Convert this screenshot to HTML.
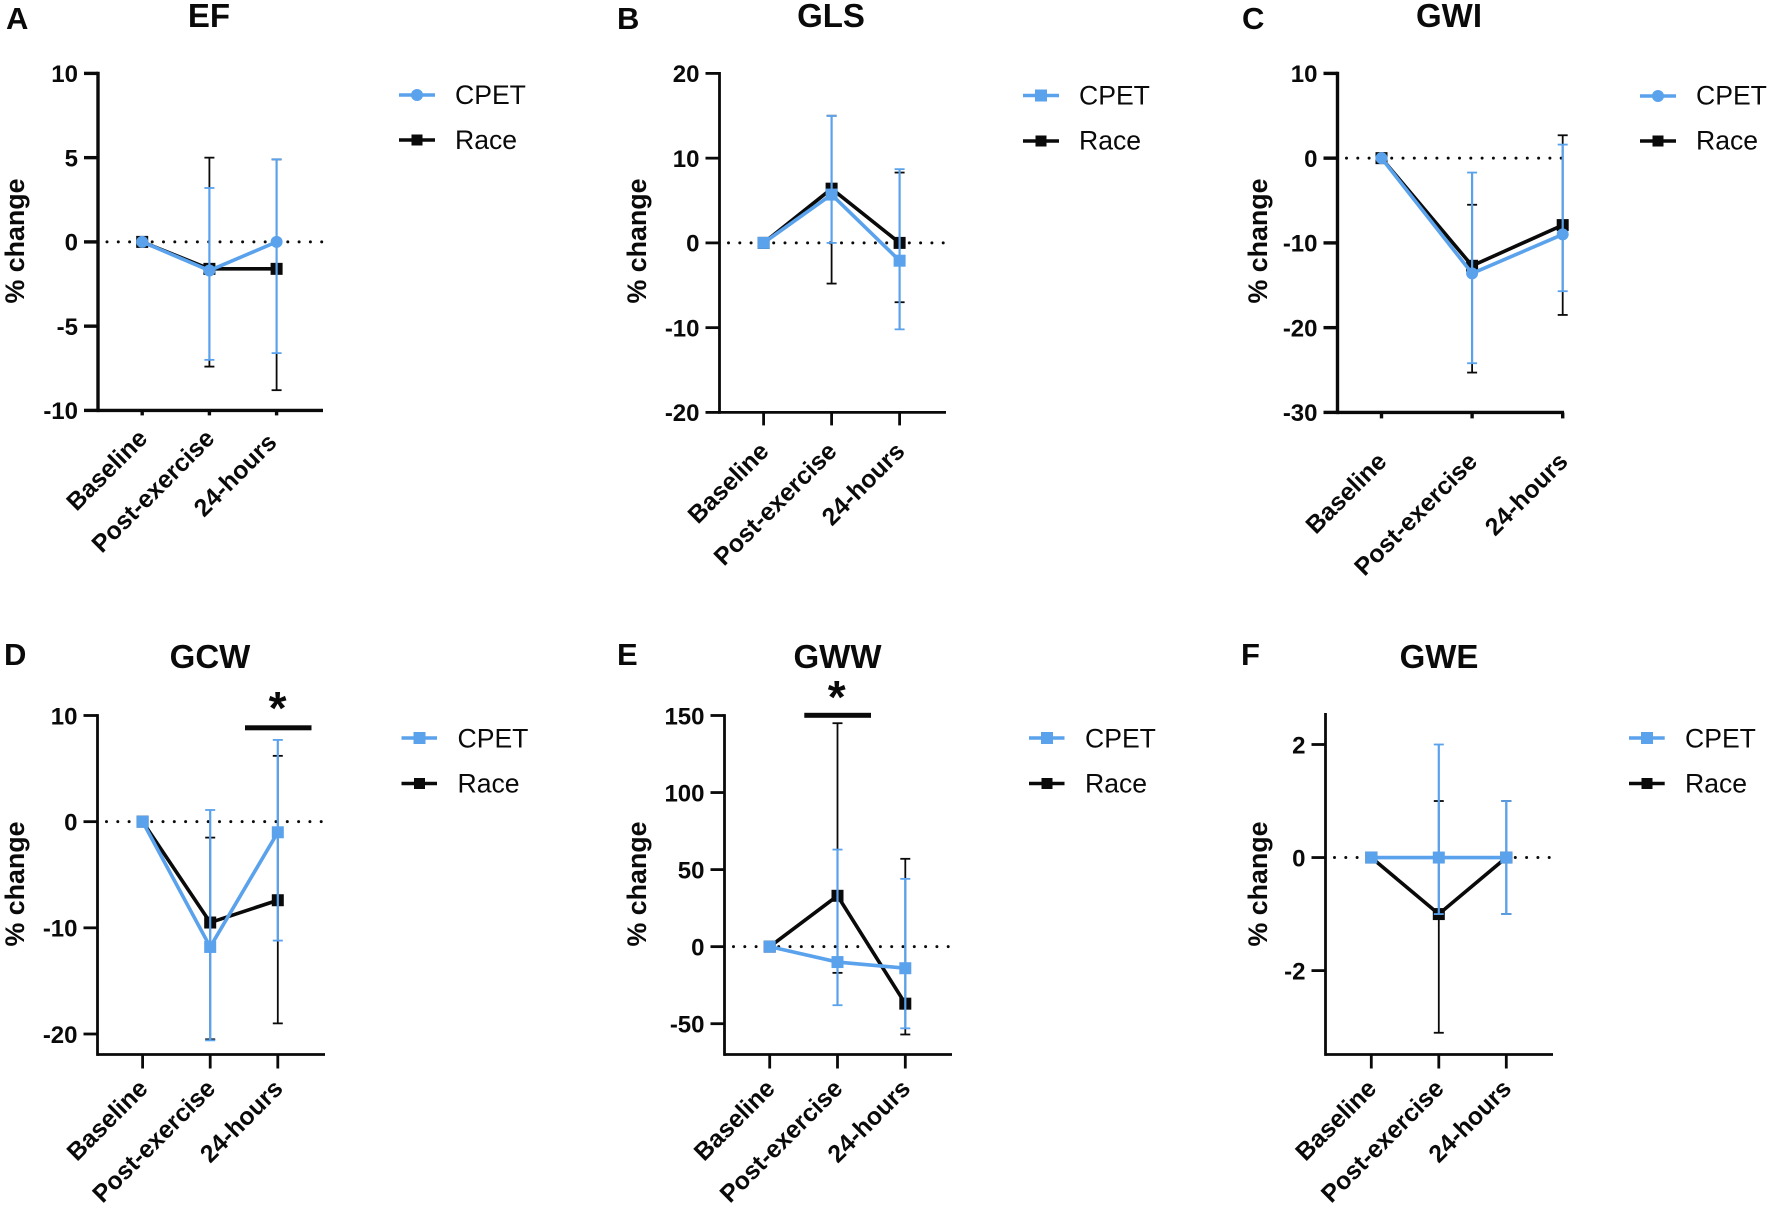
<!DOCTYPE html>
<html lang="en">
<head>
<meta charset="utf-8">
<title>Percent change by time point: EF, GLS, GWI, GCW, GWW, GWE</title>
<style>
html,body{margin:0;padding:0;background:#fff;width:1772px;height:1213px;overflow:hidden}
svg{display:block}
text{font-family:"Liberation Sans",sans-serif;fill:#0a0a0a}
.letter{font-size:31px;font-weight:700}
.title{font-size:33px;font-weight:700;text-anchor:middle}
.ytitle{font-size:26.8px;font-weight:700;text-anchor:middle}
.tick{font-size:24px;font-weight:700;text-anchor:end}
.cat{font-size:24.8px;font-weight:700;text-anchor:end}
.leg{font-size:26.6px}
.star{font-size:46px;font-weight:700;text-anchor:middle}
</style>
</head>
<body>
<svg id="figure" xmlns="http://www.w3.org/2000/svg" width="1772" height="1213" viewBox="0 0 1772 1213">
  <rect width="1772" height="1213" fill="#fff"/>

  <g id="panel-ef">
    <text class="letter" x="6" y="29">A</text>
    <text class="title" x="209" y="27">EF</text>
    <text class="ytitle" transform="translate(24,241) rotate(-90)">% change</text>
    <g>
      <line x1="399" x2="435" y1="95" y2="95" stroke="#5aa2ec" stroke-width="3.4"/>
      <circle cx="417" cy="95" r="6" fill="#5aa2ec"/>
      <text class="leg" x="455" y="104">CPET</text>
      <line x1="399" x2="435" y1="140" y2="140" stroke="#0a0a0a" stroke-width="3.4"/>
      <rect x="411.5" y="134.5" width="11" height="11" fill="#0a0a0a"/>
      <text class="leg" x="455" y="149">Race</text>
    </g>
  </g>

  <g id="panel-gls">
    <text class="letter" x="617" y="29">B</text>
    <text class="title" x="831" y="27">GLS</text>
    <text class="ytitle" transform="translate(646,241) rotate(-90)">% change</text>
    <g>
      <line x1="1023" x2="1059" y1="95.5" y2="95.5" stroke="#5aa2ec" stroke-width="3.4"/>
      <rect x="1035" y="89.5" width="12" height="12" fill="#5aa2ec"/>
      <text class="leg" x="1079" y="104.5">CPET</text>
      <line x1="1023" x2="1059" y1="141" y2="141" stroke="#0a0a0a" stroke-width="3.4"/>
      <rect x="1035.5" y="135.5" width="11" height="11" fill="#0a0a0a"/>
      <text class="leg" x="1079" y="149.5">Race</text>
    </g>
  </g>

  <g id="panel-gwi">
    <text class="letter" x="1242" y="29">C</text>
    <text class="title" x="1449" y="27">GWI</text>
    <text class="ytitle" transform="translate(1267,241) rotate(-90)">% change</text>
    <g>
      <line x1="1640" x2="1676" y1="96" y2="96" stroke="#5aa2ec" stroke-width="3.4"/>
      <circle cx="1658" cy="96" r="6" fill="#5aa2ec"/>
      <text class="leg" x="1696" y="104.5">CPET</text>
      <line x1="1640" x2="1676" y1="141" y2="141" stroke="#0a0a0a" stroke-width="3.4"/>
      <rect x="1652.5" y="135.5" width="11" height="11" fill="#0a0a0a"/>
      <text class="leg" x="1696" y="149.5">Race</text>
    </g>
  </g>

  <g id="panel-gcw">
    <text class="letter" x="4" y="665">D</text>
    <text class="title" x="210" y="668">GCW</text>
    <text class="ytitle" transform="translate(24,884) rotate(-90)">% change</text>
    <text class="star" x="277.6" y="724">*</text>
    <rect x="245" y="725.3" width="66.5" height="5" fill="#0a0a0a"/>
    <g>
      <line x1="401.5" x2="437" y1="738" y2="738" stroke="#5aa2ec" stroke-width="3.4"/>
      <rect x="413.5" y="732" width="12" height="12" fill="#5aa2ec"/>
      <text class="leg" x="457.5" y="747.5">CPET</text>
      <line x1="401.5" x2="437" y1="783.5" y2="783.5" stroke="#0a0a0a" stroke-width="3.4"/>
      <rect x="414" y="778" width="11" height="11" fill="#0a0a0a"/>
      <text class="leg" x="457.5" y="792.5">Race</text>
    </g>
  </g>

  <g id="panel-gww">
    <text class="letter" x="617" y="665">E</text>
    <text class="title" x="837.5" y="668">GWW</text>
    <text class="ytitle" transform="translate(646,884) rotate(-90)">% change</text>
    <text class="star" x="836.7" y="713">*</text>
    <rect x="804.3" y="712.8" width="66.7" height="5" fill="#0a0a0a"/>
    <g>
      <line x1="1029" x2="1064.5" y1="738" y2="738" stroke="#5aa2ec" stroke-width="3.4"/>
      <rect x="1041" y="732" width="12" height="12" fill="#5aa2ec"/>
      <text class="leg" x="1085" y="747.5">CPET</text>
      <line x1="1029" x2="1064.5" y1="783.5" y2="783.5" stroke="#0a0a0a" stroke-width="3.4"/>
      <rect x="1041.5" y="778" width="11" height="11" fill="#0a0a0a"/>
      <text class="leg" x="1085" y="792.5">Race</text>
    </g>
  </g>

  <g id="panel-gwe">
    <text class="letter" x="1241" y="665">F</text>
    <text class="title" x="1439" y="668">GWE</text>
    <text class="ytitle" transform="translate(1267,884) rotate(-90)">% change</text>
    <g>
      <line x1="1629" x2="1664.7" y1="738" y2="738" stroke="#5aa2ec" stroke-width="3.4"/>
      <rect x="1641" y="732" width="12" height="12" fill="#5aa2ec"/>
      <text class="leg" x="1685" y="747.5">CPET</text>
      <line x1="1629" x2="1664.7" y1="783.5" y2="783.5" stroke="#0a0a0a" stroke-width="3.4"/>
      <rect x="1641.5" y="778" width="11" height="11" fill="#0a0a0a"/>
      <text class="leg" x="1685" y="792.5">Race</text>
    </g>
  </g>
</svg>

<script>
// ---- Shared categories ----
const categories = ['Baseline', 'Post-exercise', '24-hours'];

// ---- EF ----
const efTicks = [10, 5, 0, -5, -10];
const efCpetMean = [0, -1.7, 0];
const efCpetUpper = [0, 3.2, 4.9];
const efCpetLower = [0, -7, -6.6];
const efRaceMean = [0, -1.6, -1.6];
const efRaceUpper = [0, 5, 4.9];
const efRaceLower = [0, -7.4, -8.8];

// ---- GLS ----
const glsTicks = [20, 10, 0, -10, -20];
const glsCpetMean = [0, 5.7, -2.1];
const glsCpetUpper = [0, 15, 8.7];
const glsCpetLower = [0, 0, -10.2];
const glsRaceMean = [0, 6.4, 0];
const glsRaceUpper = [0, 15, 8.3];
const glsRaceLower = [0, -4.8, -7];

// ---- GWI ----
const gwiTicks = [10, 0, -10, -20, -30];
const gwiCpetMean = [0, -13.6, -9];
const gwiCpetUpper = [0, -1.7, 1.6];
const gwiCpetLower = [0, -24.2, -15.7];
const gwiRaceMean = [0, -12.7, -7.9];
const gwiRaceUpper = [0, -5.5, 2.7];
const gwiRaceLower = [0, -25.3, -18.5];

// ---- GCW ----
const gcwTicks = [10, 0, -10, -20];
const gcwCpetMean = [0, -11.8, -1];
const gcwCpetUpper = [0, 1.1, 7.7];
const gcwCpetLower = [0, -20.6, -11.2];
const gcwRaceMean = [0, -9.5, -7.4];
const gcwRaceUpper = [0, -1.5, 6.2];
const gcwRaceLower = [0, -20.5, -19];

// ---- GWW ----
const gwwTicks = [150, 100, 50, 0, -50];
const gwwCpetMean = [0, -10, -14];
const gwwCpetUpper = [0, 63, 44];
const gwwCpetLower = [0, -38, -53];
const gwwRaceMean = [0, 33, -37];
const gwwRaceUpper = [0, 145, 57];
const gwwRaceLower = [0, -17, -57];

// ---- GWE ----
const gweTicks = [2, 0, -2];
const gweCpetMean = [0, 0, 0];
const gweCpetUpper = [0, 2, 1];
const gweCpetLower = [0, -1, -1];
const gweRaceMean = [0, -1, 0];
const gweRaceUpper = [0, 1, 1];
const gweRaceLower = [0, -3.1, -1];

const BLUE = '#5aa2ec';
const BLACK = '#0a0a0a';
const NS = 'http://www.w3.org/2000/svg';

function mk(tag, parent, attrs) {
  const el = document.createElementNS(NS, tag);
  for (const k in attrs) el.setAttribute(k, attrs[k]);
  parent.appendChild(el);
  return el;
}

function drawPanel(p) {
  const root = document.getElementById(p.id);
  const yScale = v => p.pxLo + (v - p.lo) * (p.pxHi - p.pxLo) / (p.hi - p.lo);
  const xScale = i => p.x0 + i * p.dx;

  const axes = mk('g', root, {});
  
  

  const yAxis = mk('line', axes, {x1: p.axisX, x2: p.axisX, y1: p.axisTop - p.aw / 2, y2: p.axisBottom + p.aw / 2, stroke: BLACK, 'stroke-width': p.aw});
  
  

  const xAxis = mk('line', axes, {x1: p.axisX, x2: p.xEnd, y1: p.axisBottom, y2: p.axisBottom, stroke: BLACK, 'stroke-width': p.aw});
  
  

  p.ticks.forEach(t => {
    const py = yScale(t);
    const tm = mk('line', axes, {x1: p.axisX - 14, x2: p.axisX, y1: py, y2: py, stroke: BLACK, 'stroke-width': p.aw});
    
    
    const lb = mk('text', axes, {class: 'tick', x: p.axisX - 20, y: py + 8.8});
    lb.textContent = String(t);
    
    
  });

  categories.forEach((c, i) => {
    const px = xScale(i);
    const tm = mk('line', axes, {x1: px, x2: px, y1: p.axisBottom, y2: p.axisBottom + p.tickLen, stroke: BLACK, 'stroke-width': p.aw});
    
    
    const isLast = i === categories.length - 1;
    const lx = px + 6.5 + (isLast ? (p.lastLabelDx || 0) : 0);
    const ly = p.axisBottom + p.tickLen + p.labelGap + (isLast ? (p.lastLabelDy || 0) : 0);
    const lb = mk('text', axes, {class: 'cat', transform: `translate(${lx},${ly}) rotate(-45)`});
    lb.textContent = c;
    
    
  });

  const zero = mk('line', root, {x1: p.axisX + 9, x2: p.xEnd, y1: yScale(0), y2: yScale(0), stroke: BLACK, 'stroke-width': 3, 'stroke-linecap': 'round', 'stroke-dasharray': '0 11.3'});
  
  

  drawSeries(root, 'race', BLACK, p.raceMean, p.raceUpper, p.raceLower, 'square', xScale, yScale, 1.8);
  drawSeries(root, 'cpet', BLUE, p.cpetMean, p.cpetUpper, p.cpetLower, p.cpetMarker, xScale, yScale, 2.2);
}

function drawSeries(root, name, color, mean, upper, lower, marker, xScale, yScale, ew) {
  const g = mk('g', root, {});
  
  

  mean.forEach((m, i) => {
    if (upper[i] === lower[i]) return;
    const px = xScale(i);
    const stem = mk('line', g, {x1: px, x2: px, y1: yScale(upper[i]), y2: yScale(lower[i]), stroke: color, 'stroke-width': ew});
    
    
    [upper[i], lower[i]].forEach(v => {
      const cap = mk('line', g, {x1: px - 5, x2: px + 5, y1: yScale(v), y2: yScale(v), stroke: color, 'stroke-width': 1.8});
      
      
    });
  });

  const pts = mean.map((m, i) => `${xScale(i)},${yScale(m)}`).join(' ');
  const line = mk('polyline', g, {points: pts, fill: 'none', stroke: color, 'stroke-width': 3.6, 'stroke-linejoin': 'miter'});
  
  

  mean.forEach((m, i) => {
    const px = xScale(i), py = yScale(m);
    const mark = marker === 'circle'
      ? mk('circle', g, {cx: px, cy: py, r: 6, fill: color})
      : mk('rect', g, {x: px - 6, y: py - 6, width: 12, height: 12, fill: color});
    
    
  });
}

drawPanel({id: 'panel-ef', ticks: efTicks, hi: 10, pxHi: 73.4, lo: -10, pxLo: 410.4, axisX: 98, axisTop: 73.4, axisBottom: 410.4, xEnd: 323, x0: 142.2, dx: 67.2, aw: 3.4, tickLen: 5, labelGap: 24.5, lastLabelDx: -5, lastLabelDy: 4, cpetMarker: 'circle',
  cpetMean: efCpetMean, cpetUpper: efCpetUpper, cpetLower: efCpetLower, raceMean: efRaceMean, raceUpper: efRaceUpper, raceLower: efRaceLower});
drawPanel({id: 'panel-gls', ticks: glsTicks, hi: 20, pxHi: 73.4, lo: -20, pxLo: 412.4, axisX: 719.5, axisTop: 73.4, axisBottom: 412.4, xEnd: 946, x0: 763.6, dx: 68, aw: 2.8, tickLen: 13, labelGap: 27.4, cpetMarker: 'square',
  cpetMean: glsCpetMean, cpetUpper: glsCpetUpper, cpetLower: glsCpetLower, raceMean: glsRaceMean, raceUpper: glsRaceUpper, raceLower: glsRaceLower});
drawPanel({id: 'panel-gwi', ticks: gwiTicks, hi: 10, pxHi: 73.4, lo: -30, pxLo: 412.4, axisX: 1337.5, axisTop: 73.4, axisBottom: 412.4, xEnd: 1564, x0: 1381.5, dx: 90.6, aw: 3.4, tickLen: 6, labelGap: 44.6, cpetMarker: 'circle',
  cpetMean: gwiCpetMean, cpetUpper: gwiCpetUpper, cpetLower: gwiCpetLower, raceMean: gwiRaceMean, raceUpper: gwiRaceUpper, raceLower: gwiRaceLower});
drawPanel({id: 'panel-gcw', ticks: gcwTicks, hi: 10, pxHi: 715.5, lo: -20, pxLo: 1034, axisX: 97.5, axisTop: 715.5, axisBottom: 1054.5, xEnd: 325, x0: 142.6, dx: 67.6, aw: 2.8, tickLen: 14, labelGap: 21.5, cpetMarker: 'square',
  cpetMean: gcwCpetMean, cpetUpper: gcwCpetUpper, cpetLower: gcwCpetLower, raceMean: gcwRaceMean, raceUpper: gcwRaceUpper, raceLower: gcwRaceLower});
drawPanel({id: 'panel-gww', ticks: gwwTicks, hi: 150, pxHi: 715.5, lo: -50, pxLo: 1023.7, axisX: 724.5, axisTop: 715.5, axisBottom: 1054.5, xEnd: 952, x0: 769.7, dx: 67.8, aw: 2.8, tickLen: 14, labelGap: 21.5, cpetMarker: 'square',
  cpetMean: gwwCpetMean, cpetUpper: gwwCpetUpper, cpetLower: gwwCpetLower, raceMean: gwwRaceMean, raceUpper: gwwRaceUpper, raceLower: gwwRaceLower});
drawPanel({id: 'panel-gwe', ticks: gweTicks, hi: 2, pxHi: 744.5, lo: -2, pxLo: 970.6, axisX: 1325.5, axisTop: 714.4, axisBottom: 1054.5, xEnd: 1553, x0: 1371.3, dx: 67.5, aw: 2.8, tickLen: 14, labelGap: 21.5, cpetMarker: 'square',
  cpetMean: gweCpetMean, cpetUpper: gweCpetUpper, cpetLower: gweCpetLower, raceMean: gweRaceMean, raceUpper: gweRaceUpper, raceLower: gweRaceLower});
</script>
</body>
</html>
